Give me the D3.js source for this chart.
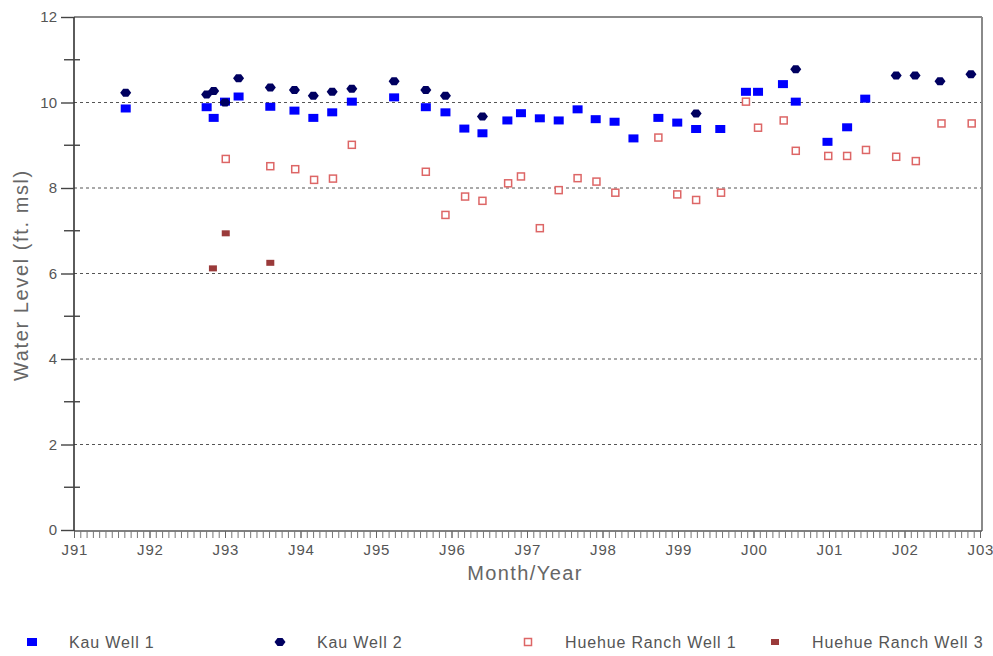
<!DOCTYPE html>
<html>
<head>
<meta charset="utf-8">
<script src="https://cdn.jsdelivr.net/npm/d3@7"></script>
<style>
  html, body { margin: 0; padding: 0; background: #fff; }
  svg { display: block; font-family: "Liberation Sans", Arial, sans-serif; }
</style>
</head>
<body>
<svg id="chart" width="993" height="656"></svg>
<script>
// ---- Data (decimal years, water level ft msl) ----
const yearTicks = [1991, 1992, 1993, 1994, 1995, 1996, 1997, 1998, 1999, 2000, 2001, 2002, 2003];
const yearLabels = ["J91", "J92", "J93", "J94", "J95", "J96", "J97", "J98", "J99", "J00", "J01", "J02", "J03"];
const levelTicks = [0, 2, 4, 6, 8, 10, 12];
const gridLevels = [2, 4, 6, 8, 10];
const minorLevels = [1, 3, 5, 7, 9, 11];

const kau1Dates = [1991.685, 1992.757, 1992.85, 1993.0, 1993.18, 1993.6, 1993.92, 1994.17, 1994.42, 1994.68, 1995.24, 1995.66, 1995.92, 1996.17, 1996.41, 1996.74, 1996.92, 1997.17, 1997.42, 1997.67, 1997.91, 1998.16, 1998.41, 1998.74, 1998.99, 1999.24, 1999.56, 1999.90, 2000.06, 2000.39, 2000.56, 2000.98, 2001.24, 2001.48];
const kau1Vals  = [9.86, 9.89, 9.64, 10.02, 10.14, 9.90, 9.81, 9.64, 9.77, 10.02, 10.12, 9.89, 9.77, 9.39, 9.28, 9.58, 9.75, 9.63, 9.58, 9.84, 9.61, 9.55, 9.16, 9.64, 9.53, 9.38, 9.38, 10.25, 10.25, 10.43, 10.02, 9.08, 9.42, 10.09];

const kau2Dates = [1991.685, 1992.757, 1992.85, 1993.0, 1993.18, 1993.6, 1993.92, 1994.17, 1994.42, 1994.68, 1995.24, 1995.66, 1995.92, 1996.41, 1999.24, 2000.56, 2001.89, 2002.14, 2002.47, 2002.88];
const kau2Vals  = [10.23, 10.19, 10.27, 10.0, 10.57, 10.35, 10.29, 10.16, 10.25, 10.32, 10.50, 10.29, 10.16, 9.67, 9.74, 10.78, 10.63, 10.63, 10.50, 10.66];

const hue1Dates = [1993.01, 1993.60, 1993.93, 1994.18, 1994.43, 1994.68, 1995.66, 1995.92, 1996.18, 1996.41, 1996.75, 1996.92, 1997.17, 1997.42, 1997.67, 1997.92, 1998.17, 1998.74, 1998.99, 1999.24, 1999.57, 1999.90, 2000.06, 2000.40, 2000.56, 2000.99, 2001.24, 2001.49, 2001.89, 2002.15, 2002.49, 2002.89];
const hue1Vals  = [8.68, 8.51, 8.44, 8.19, 8.22, 9.01, 8.38, 7.37, 7.80, 7.70, 8.11, 8.27, 7.06, 7.95, 8.23, 8.15, 7.89, 9.18, 7.85, 7.72, 7.89, 10.02, 9.41, 9.58, 8.87, 8.75, 8.75, 8.89, 8.73, 8.63, 9.51, 9.51];

const hue3Dates = [1992.84, 1993.01, 1993.60];
const hue3Vals  = [6.12, 6.94, 6.25];

const seriesNames = ["Kau Well 1", "Kau Well 2", "Huehue Ranch Well 1", "Huehue Ranch Well 3"];

// ---- Layout ----
const svg = d3.select("#chart");
const padL = 74, padR = 980, padT = 17, padB = 530;
const x = d3.scaleLinear().domain([1991, 2003]).range([padL, padR]);
const y = d3.scaleLinear().domain([0, 12]).range([padB, padT]);

// grid lines
svg.append("g").selectAll("line").data(gridLevels).join("line")
  .attr("x1", padL).attr("x2", padR + 2)
  .attr("y1", d => y(d)).attr("y2", d => y(d))
  .attr("stroke", "#555").attr("stroke-width", 1.2)
  .attr("stroke-dasharray", "3,3");

// frame: top and right (gray)
svg.append("line").attr("x1", padL).attr("x2", padR + 2).attr("y1", padT).attr("y2", padT)
  .attr("stroke", "#8a8a8a").attr("stroke-width", 2);
svg.append("line").attr("x1", padR + 2).attr("x2", padR + 2).attr("y1", padT).attr("y2", padB + 1)
  .attr("stroke", "#8a8a8a").attr("stroke-width", 2);

// x axis: monthly minor ticks
const monthTicks = d3.range(0, 145).map(i => 1991 + i / 12);
const xMinor = svg.append("g").attr("transform", `translate(0,${padB + 1})`)
  .call(d3.axisBottom(x).tickValues(monthTicks).tickSize(7).tickFormat(""));
xMinor.select(".domain").attr("stroke", "#555").attr("stroke-width", 1.5).attr("d", `M${padL},0H${padR + 2}`);
xMinor.selectAll(".tick line").attr("stroke", "#777").attr("stroke-width", 1);

const xMajor = svg.append("g").attr("transform", `translate(0,${padB + 1})`)
  .call(d3.axisBottom(x).tickValues(yearTicks).tickSize(7).tickPadding(6)
    .tickFormat((d, i) => yearLabels[i]));
xMajor.select(".domain").remove();
xMajor.selectAll(".tick line").attr("stroke", "#666");
xMajor.selectAll(".tick text").attr("fill", "#555").attr("font-size", 15)
  .attr("letter-spacing", 0.8).attr("dx", 0.4)
  .attr("font-family", "'Liberation Sans', Arial, sans-serif");

// y axis
const yAxis = svg.append("g").attr("transform", `translate(${padL},0)`)
  .call(d3.axisLeft(y).tickValues(levelTicks).tickSize(13).tickPadding(4).tickFormat(d3.format("d")));
yAxis.select(".domain").attr("stroke", "#333").attr("stroke-width", 1.6).attr("d", `M0,${padT}V${padB + 1}`);
yAxis.selectAll(".tick line").attr("stroke", "#444").attr("stroke-width", 1.4);
yAxis.selectAll(".tick text").attr("fill", "#555").attr("font-size", 15)
  .attr("font-family", "'Liberation Sans', Arial, sans-serif");

// y minor ticks (crossing axis)
svg.append("g").selectAll("line").data(minorLevels).join("line")
  .attr("x1", padL - 10).attr("x2", padL + 6)
  .attr("y1", d => y(d)).attr("y2", d => y(d))
  .attr("stroke", "#444").attr("stroke-width", 1.4);

// axis titles
svg.append("text").attr("x", 525).attr("y", 580).attr("text-anchor", "middle")
  .attr("font-size", 20).attr("letter-spacing", 1.4).attr("fill", "#666").text("Month/Year");
svg.append("text").attr("transform", `translate(28,275) rotate(-90)`)
  .attr("text-anchor", "middle").attr("font-size", 20).attr("letter-spacing", 1.6).attr("fill", "#666")
  .text("Water Level (ft. msl)");

// ---- markers ----
const kau2Shape = "M-5.5,0L-2.5,-4L2.5,-4L5.5,0L2.5,4L-2.5,4Z";
function drawKau1(g) { g.append("rect").attr("x", -5).attr("y", -4).attr("width", 10).attr("height", 8).attr("fill", "#0000ff"); }
function drawKau2(g) { g.append("path").attr("d", kau2Shape).attr("fill", "#000060"); }
function drawHue1(g) { g.append("rect").attr("x", -3.5).attr("y", -3.5).attr("width", 7).attr("height", 7).attr("fill", "#fff").attr("stroke", "#dd6666").attr("stroke-width", 1.5); }
function drawHue3(g) { g.append("rect").attr("x", -4).attr("y", -3).attr("width", 8).attr("height", 6).attr("fill", "#9a3a3a"); }

function plot(dates, vals, drawer) {
  const pts = dates.map((d, i) => ({ d, v: vals[i] }));
  svg.append("g").selectAll("g").data(pts).join("g")
    .attr("transform", p => `translate(${x(p.d)},${y(p.v)})`)
    .each(function () { drawer(d3.select(this)); });
}
plot(hue1Dates, hue1Vals, drawHue1);
plot(hue3Dates, hue3Vals, drawHue3);
plot(kau1Dates, kau1Vals, drawKau1);
plot(kau2Dates, kau2Vals, drawKau2);

// ---- legend ----
const legendX = [32, 280, 528, 775];
const drawers = [drawKau1, drawKau2, drawHue1, drawHue3];
const legend = svg.append("g");
seriesNames.forEach((name, i) => {
  const g = legend.append("g").attr("transform", `translate(${legendX[i]},642)`);
  drawers[i](g);
  g.append("text").attr("x", 37).attr("y", 6).attr("font-size", 16).attr("letter-spacing", 0.85)
    .attr("fill", "#555").text(name);
});
</script>
</body>
</html>
